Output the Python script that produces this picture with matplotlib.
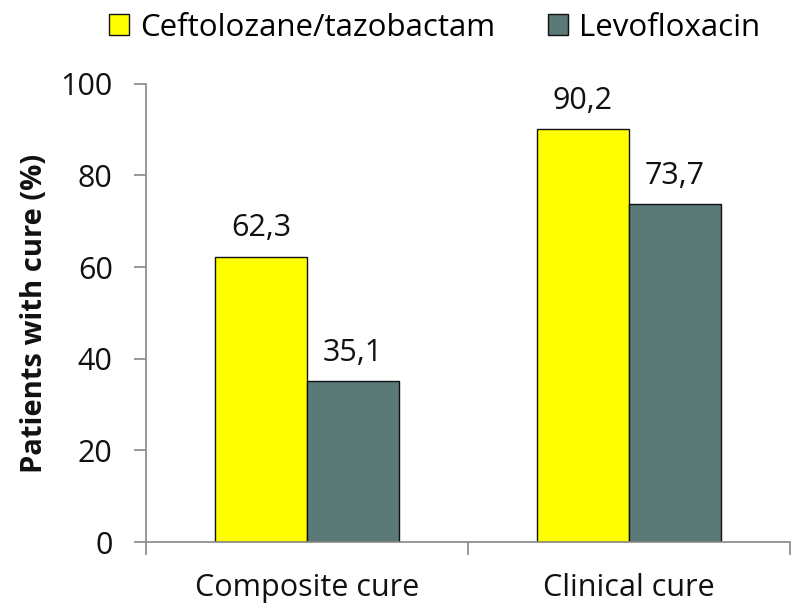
import matplotlib
matplotlib.use("Agg")
import matplotlib.pyplot as plt
import numpy as np

categories = ["Composite cure", "Clinical cure"]
series_names = ["Ceftolozane/tazobactam", "Levofloxacin"]
ceftolozane = [62.3, 90.2]
levofloxacin = [35.1, 73.7]
y_ticks = [0, 20, 40, 60, 80, 100]

plt.rcParams['font.family'] = ['Open Sans', 'DejaVu Sans']

fig = plt.figure(figsize=(7.92, 6.03), dpi=100)
ax = fig.add_axes([0.1843, 0.101, 0.813, 0.76])

x = np.arange(len(categories))
w = 0.286
colors = ["#FFFF00", "#5A7977"]
for i, (vals, col, name) in enumerate(zip([ceftolozane, levofloxacin], colors, series_names)):
    pos = x + (i - 0.5) * w
    ax.bar(pos, vals, width=w, color=col, edgecolor="#111111", linewidth=1.0, label=name, zorder=2)
    for p, v in zip(pos, vals):
        ax.annotate(f"{v:.1f}".replace(".", ","), (p, v), xytext=(0, 14.5),
                    textcoords="offset points", ha="center", va="baseline",
                    fontsize=22, color="#111111")

ax.set_xlim(-0.5, 1.5)
ax.set_ylim(0, 100)
ax.set_yticks(y_ticks)
ax.set_yticklabels([str(t) for t in y_ticks], fontsize=22, color="#111111")
ax.set_xticks(x)
ax.set_xticklabels(categories, fontsize=22, color="#111111")
ax.tick_params(axis="x", which="major", length=0, pad=22)
ax.set_xticks([-0.5, 0.5, 1.5], minor=True)
ax.tick_params(axis="x", which="minor", length=9, width=1.2, color="#888888", direction="out")
ax.tick_params(axis="y", length=9, width=1.2, color="#888888", direction="out", pad=15)

for s in ["top", "right"]:
    ax.spines[s].set_visible(False)
for s in ["left", "bottom"]:
    ax.spines[s].set_color("#888888")
    ax.spines[s].set_linewidth(1.2)

ax.set_ylabel("Patients with cure (%)", fontsize=21, fontweight="bold", color="#111111", labelpad=8)

fig.legend(loc="center", bbox_to_anchor=(0.549, 0.954), ncol=2, frameon=False,
           fontsize=22.5, handlelength=0.64, handleheight=0.64, handletextpad=0.35,
           columnspacing=1.7, borderpad=0)

fig.savefig("out.png", dpi=100)
